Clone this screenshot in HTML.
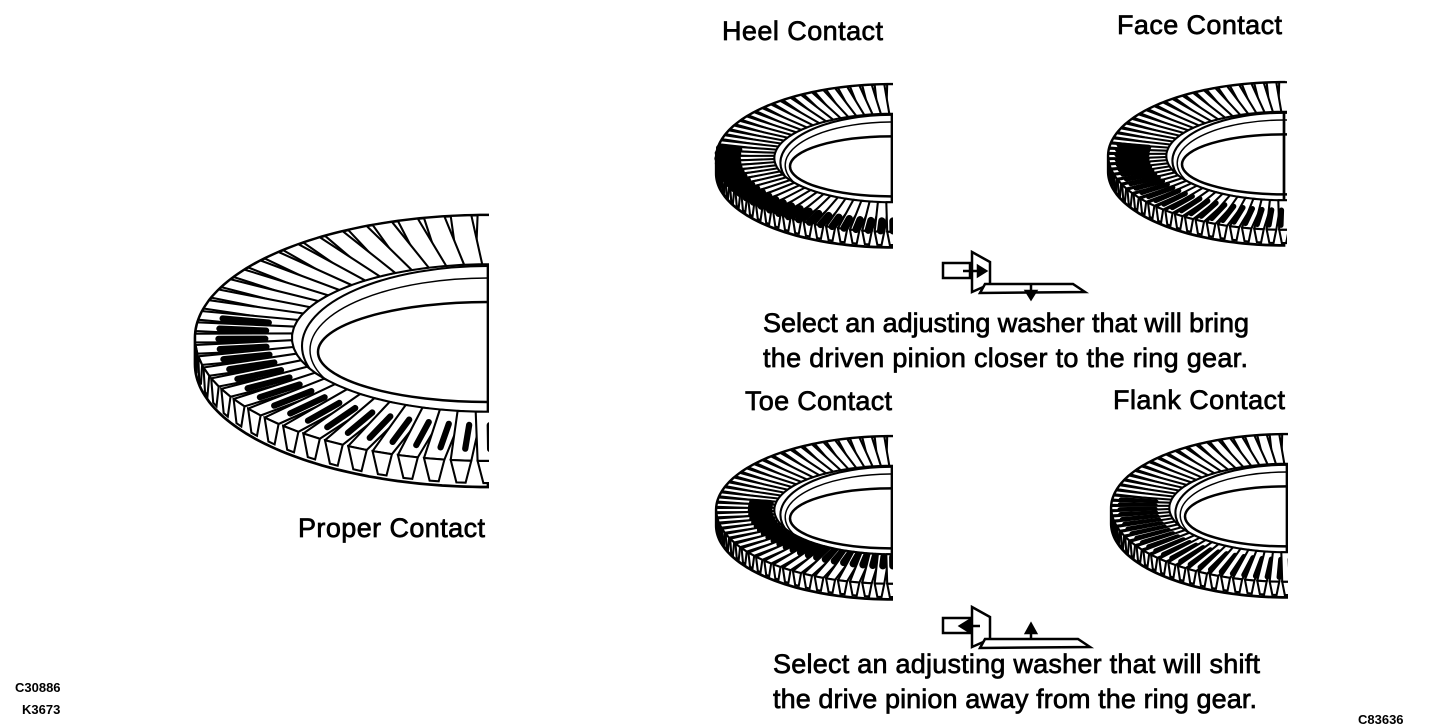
<!DOCTYPE html>
<html><head><meta charset="utf-8"><style>
html,body{margin:0;padding:0;background:#fff;}
svg{display:block}
text{font-family:"Liberation Sans",Arial,sans-serif;fill:#000;}
.lbl{font-size:27px;stroke:#000;stroke-width:0.7px;}
.sm{font-size:13px;font-weight:bold;}
</style></head><body>
<svg id="s" width="1456" height="728" viewBox="0 0 1456 728" xmlns="http://www.w3.org/2000/svg">
<defs>
<clipPath id="cb"><rect x="150" y="150" width="339" height="400"/></clipPath>
<clipPath id="c1"><rect x="690" y="50" width="203" height="220"/></clipPath>
<clipPath id="c2"><rect x="1080" y="50" width="207" height="220"/></clipPath>
<clipPath id="c3"><rect x="690" y="400" width="203" height="220"/></clipPath>
<clipPath id="c4"><rect x="1080" y="400" width="208" height="220"/></clipPath>
</defs>
<g id="gears"></g>
<text class="lbl" x="722" y="40" textLength="161">Heel Contact</text>
<text class="lbl" x="1117" y="34" textLength="165">Face Contact</text>
<text class="lbl" x="763" y="332" textLength="486">Select an adjusting washer that will bring</text>
<text class="lbl" x="763" y="367" textLength="485">the driven pinion closer to the ring gear.</text>
<text class="lbl" x="745" y="410" textLength="147">Toe Contact</text>
<text class="lbl" x="1113" y="409" textLength="172">Flank Contact</text>
<text class="lbl" x="298" y="537" textLength="187">Proper Contact</text>
<text class="lbl" x="773" y="673" textLength="487">Select an adjusting washer that will shift</text>
<text class="lbl" x="773" y="708" textLength="484">the drive pinion away from the ring gear.</text>
<text class="sm" x="15" y="692">C30886</text>
<text class="sm" x="22" y="714">K3673</text>
<text class="sm" x="1358" y="724">C83636</text>
<g fill="#fff" stroke="#000" stroke-width="2.5">
 <rect x="943" y="263" width="27" height="15"/>
 <polygon points="972,252 990,262 990,284 972,292"/>
 <polygon points="985,284 1073,284 1085,292 980,293"/>
 <rect x="943" y="618" width="27" height="15"/>
 <polygon points="972,607 990,617 990,639 972,647"/>
 <polygon points="985,639 1078,639 1090,647 980,648"/>
</g>
<g fill="#000" stroke="#000" stroke-width="2.5">
 <line x1="963" y1="271" x2="978" y2="271"/><polygon points="978,266 986,271 978,276"/>
 <line x1="1031" y1="285" x2="1031" y2="292"/><polygon points="1026,291 1036,291 1031,299"/>
 <line x1="968" y1="626" x2="980" y2="626"/><polygon points="968,621 960,626 968,631"/>
 <line x1="1031" y1="633" x2="1031" y2="640"/><polygon points="1026,633 1036,633 1031,624"/>
</g>
</svg>
<script>
(function(){
var NS="http://www.w3.org/2000/svg",G=document.getElementById("gears");
function el(n,a,p){var e=document.createElementNS(NS,n);for(var k in a)e.setAttribute(k,a[k]);p.appendChild(e);return e;}
function gear(tx,ty,s,clip,N,patch){
 var g=el("g",{"clip-path":"url(#"+clip+")"},G);
 var h=el("g",{transform:"translate("+tx+","+ty+") scale("+s+")"},g);
 var rx=293,ry=123,T=26,sw=2.6/s*0.8;
 function P(f,kx,ky,dy){return [-kx*rx*Math.cos(f),ky*ry*Math.sin(f)+(dy||0)];}
 function pts(a){return a.map(function(p){return p[0].toFixed(1)+","+p[1].toFixed(1)}).join(" ");}
 var d="M0,"+(-ry)+" ";var i,f;
 for(i=0;i<=60;i++){f=-Math.PI/2+Math.PI/2*i/60;var p=P(f,1,1);d+="L"+p[0].toFixed(1)+","+p[1].toFixed(1)+" ";}
 for(i=0;i<=60;i++){f=Math.PI/2*i/60;var p=P(f,1.0,1,T);d+="L"+p[0].toFixed(1)+","+p[1].toFixed(1)+" ";}
 d+="L0,0Z";
 el("path",{d:d,fill:"#fff",stroke:"#000","stroke-width":sw*1.3},h);
 el("ellipse",{cx:0,cy:8,rx:186,ry:80,fill:"none",stroke:"#000","stroke-width":sw},h);
 el("ellipse",{cx:0,cy:12,rx:178,ry:72,fill:"none",stroke:"#000","stroke-width":sw*0.7},h);
 el("ellipse",{cx:0,cy:14,rx:170,ry:50,fill:"none",stroke:"#000","stroke-width":sw*1.2},h);
 var w=Math.PI/N*0.85;
 for(i=0;i<=N;i++){
  f=-Math.PI/2+Math.PI*i/N;
  var kr=0.67,kry=0.6;
  var r1=P(f-w*0.8,kr,kry),r2=P(f+w*0.8,kr,kry),o1=P(f-w*0.45,1,1),o2=P(f+w*0.45,1,1);
  el("polygon",{points:pts([r1,o1,o2,r2]),fill:"#fff",stroke:"#000","stroke-width":sw,"stroke-linejoin":"round"},h);
  if(Math.sin(f)>0.05){
   var b1=P(f-w*0.2,1,1,T*0.85),b2=P(f+w*0.2,1,1,T*0.85);
   el("polygon",{points:pts([o1,o2,b2,b1]),fill:"#fff",stroke:"#000","stroke-width":sw},h);
  }
  var a=patch[0],b=patch[1],off=patch[2];
  var q1=P(f+w*off,a,(kry+(1-kry)*(a-kr)/(1-kr))),q2=P(f+w*off,b,(kry+(1-kry)*(b-kr)/(1-kr)));
  if(Math.sin(f)>-0.2)
  el("line",{x1:q1[0],y1:q1[1],x2:q2[0],y2:q2[1],stroke:"#000","stroke-width":sw*patch[3],"stroke-linecap":"round"},h);
 }
}
gear(488,338,1,"cb",34,[0.76,0.92,0.1,3]);
gear(892,158,0.6,"c1",44,[0.88,0.99,0.1,3.5]);
gear(1284,156,0.6,"c2",44,[0.78,0.95,-0.3,2.5]);
gear(892,510,0.6,"c3",44,[0.7,0.8,0.1,3.5]);
gear(1287,508,0.6,"c4",44,[0.75,0.95,0.4,2.5]);
})();
</script>
</body></html>
